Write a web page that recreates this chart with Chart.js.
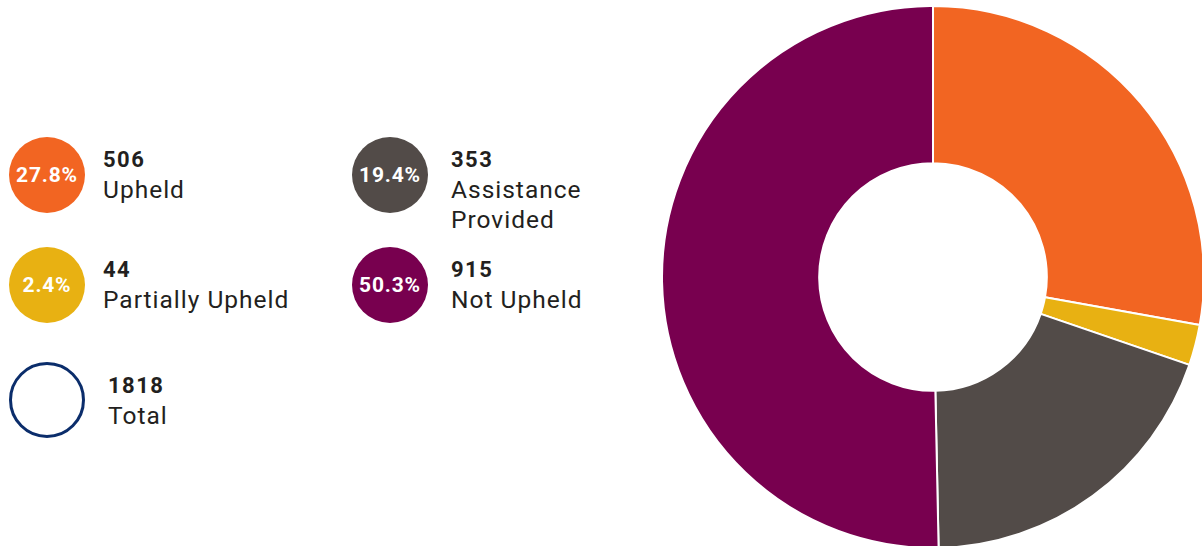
<!DOCTYPE html>
<html>
<head>
<meta charset="utf-8">
<script src="https://cdn.jsdelivr.net/npm/chart.js@4"></script>
<style>
  html, body { margin: 0; padding: 0; width: 1202px; height: 546px; overflow: hidden; background: #fff; }
  body { position: relative; font-family: Roboto, "Open Sans", sans-serif; color: #231f20; }
  #wrap { position: absolute; left: 661px; top: 5px; width: 544px; height: 544px; }
  .dot { position: absolute; width: 76px; height: 76px; border-radius: 50%; color: #fff; font-weight: 700;
         font-size: 21px; display: flex; align-items: center; justify-content: center; box-sizing: border-box; letter-spacing: 0.8px; }
  .txt { position: absolute; line-height: 30px; }
  .num { font-weight: 700; font-size: 22px; display: block; letter-spacing: 1.5px; }
  .lab { font-weight: 400; font-size: 24.5px; display: block; letter-spacing: 1px; }
</style>
</head>
<body>
<div id="legend"></div>
<div id="wrap"><canvas id="c" width="544" height="544"></canvas></div>
<script>
const categories = ["Upheld", "Partially Upheld", "Assistance Provided", "Not Upheld"];
const values = [506, 44, 353, 915];
const percentLabels = ["27.8%", "2.4%", "19.4%", "50.3%"];
const colors = ["#F26522", "#E8B112", "#524B48", "#78004F"];
const totalValue = 1818;
const totalLabel = "Total";

// legend layout: [circleLeft, circleTop, textLeft, textTop]
const legendPos = [
  [9, 137, 103, 145],
  [9, 247, 103, 255],
  [352, 137, 451, 145],
  [352, 247, 451, 255]
];
const labelLines = [["Upheld"], ["Partially Upheld"], ["Assistance", "Provided"], ["Not Upheld"]];

const legend = document.getElementById('legend');
categories.forEach((cat, i) => {
  const [cx, cy, tx, ty] = legendPos[i];
  const d = document.createElement('div');
  d.className = 'dot';
  d.style.left = cx + 'px'; d.style.top = cy + 'px';
  d.style.background = colors[i];
  d.textContent = percentLabels[i];
  legend.appendChild(d);
  const t = document.createElement('div');
  t.className = 'txt';
  t.style.left = tx + 'px'; t.style.top = ty + 'px';
  let html = '<span class="num">' + values[i] + '</span>';
  labelLines[i].forEach(l => html += '<span class="lab">' + l + '</span>');
  t.innerHTML = html;
  legend.appendChild(t);
});
const tc = document.createElement('div');
tc.className = 'dot';
tc.style.left = '9px'; tc.style.top = '362px';
tc.style.border = '3px solid #0B2D6B';
legend.appendChild(tc);
const tt = document.createElement('div');
tt.className = 'txt';
tt.style.left = '108px'; tt.style.top = '371px';
tt.innerHTML = '<span class="num">' + totalValue + '</span><span class="lab">' + totalLabel + '</span>';
legend.appendChild(tt);

new Chart(document.getElementById('c'), {
  type: 'doughnut',
  data: {
    labels: categories,
    datasets: [{
      data: values,
      backgroundColor: colors,
      borderColor: '#ffffff',
      borderWidth: 2,
      hoverOffset: 0
    }]
  },
  options: {
    responsive: false,
    animation: false,
    devicePixelRatio: 1,
    cutout: '42%',
    layout: { padding: 0 },
    plugins: { legend: { display: false }, tooltip: { enabled: false } }
  }
});
</script>
</body>
</html>
